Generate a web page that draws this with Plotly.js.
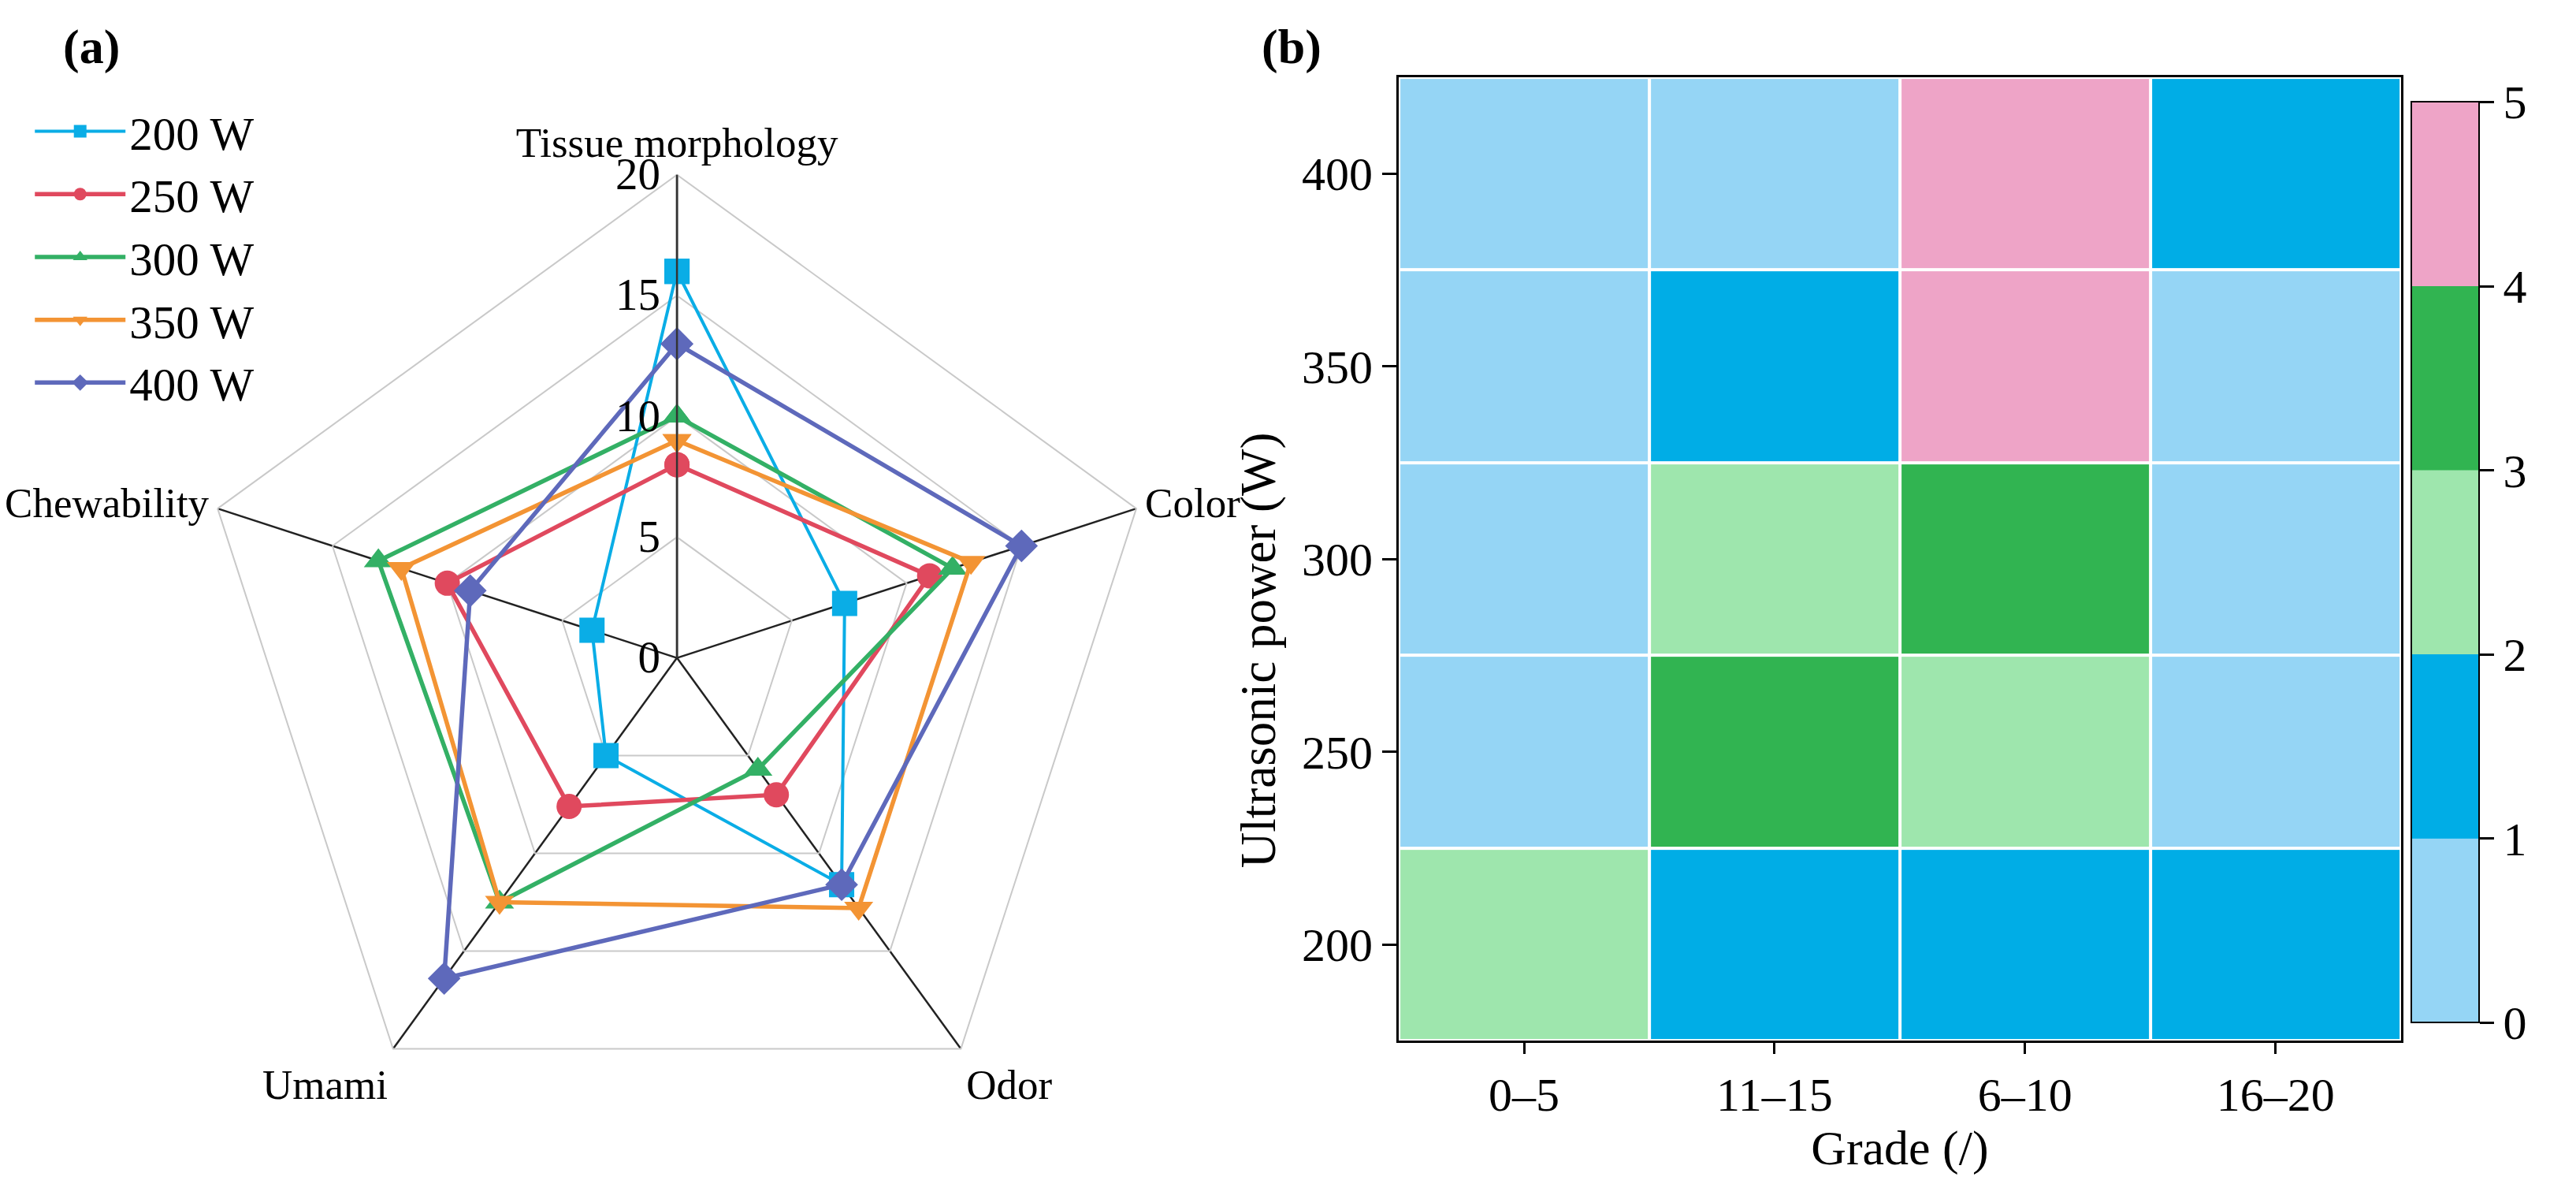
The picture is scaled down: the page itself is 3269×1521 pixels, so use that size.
<!DOCTYPE html>
<html>
<head>
<meta charset="utf-8">
<script src="https://cdn.plot.ly/plotly-3.0.1.min.js"></script>
<style>html,body{margin:0;padding:0;background:#fff;}#chart{width:3269px;height:1521px;}</style>
</head>
<body>
<div id="chart"></div>
<script>
// ---- Panel (a): radar data ----
const attributes = ["Tissue morphology", "Color", "Odor", "Umami", "Chewability"];
const seriesNames = ["200 W", "250 W", "300 W", "350 W", "400 W"];
const s200 = [16, 7.3, 11.6, 5, 3.7];
const s250 = [8, 11, 7, 7.6, 10];
const s300 = [10, 12, 5.7, 12.5, 13];
const s350 = [9, 12.8, 12.8, 12.5, 12];
const s400 = [13, 15, 11.6, 16.4, 9];
const radialTicks = [0, 5, 10, 15, 20];

// ---- Panel (b): heatmap data ----
const grades = ["0\u20135", "11\u201315", "6\u201310", "16\u201320"];
const powers = [200, 250, 300, 350, 400];
const counts = [
  [2, 1, 1, 1],   // 200 W
  [0, 3, 2, 0],   // 250 W
  [0, 2, 3, 0],   // 300 W
  [0, 1, 4, 0],   // 350 W
  [0, 0, 4, 1]    // 400 W
];
const cbTicks = [0, 1, 2, 3, 4, 5];

const FONT = "Liberation Serif, Times New Roman, serif";
const colors = ["#0aade6", "#e0495e", "#33b065", "#f39434", "#5e69bb"];
const symbols = ["square", "circle", "triangle-up", "triangle-down", "diamond"];
const widths = [4, 5.5, 5.5, 5.5, 5.5];
const allSeries = [s200, s250, s300, s350, s400];

const traces = allSeries.map((vals, i) => ({
  type: "scatterpolar",
  r: vals.concat([vals[0]]),
  theta: attributes.concat([attributes[0]]),
  name: seriesNames[i],
  mode: "lines+markers",
  line: {color: colors[i], width: widths[i]},
  marker: {symbol: symbols[i], size: 32, color: colors[i]},
  subplot: "polar"
}));

const binColors = ["#95d5f5", "#00ade6", "#9ee6ad", "#31b451", "#eea4c7"];
const eps = 0.0005;
const colorscale = [];
binColors.forEach((c, k) => {
  colorscale.push([k / 5, c]);
  colorscale.push([(k + 1) / 5 - (k < 4 ? eps : 0), c]);
});

traces.push({
  type: "heatmap",
  x: grades,
  y: powers,
  z: counts,
  zmin: 0, zmax: 5,
  colorscale: colorscale,
  xgap: 4, ygap: 4,
  xaxis: "x", yaxis: "y",
  showlegend: false,
  colorbar: {
    x: 0.936, xanchor: "left",
    y: 0.147, yanchor: "bottom",
    len: 0.768, lenmode: "fraction",
    thickness: 86,
    outlinecolor: "#000", outlinewidth: 2,
    tickvals: cbTicks, ticktext: cbTicks.map(String),
    ticks: "outside", ticklen: 18, tickwidth: 3, tickcolor: "#000",
    tickfont: {family: FONT, size: 60, color: "#000"},
    xpad: 0, ypad: 0
  }
});

const layout = {
  width: 3269, height: 1521,
  margin: {l: 0, r: 0, t: 0, b: 0},
  paper_bgcolor: "#ffffff",
  plot_bgcolor: "#ffffff",
  font: {family: FONT, size: 57, color: "#000"},
  showlegend: true,
  legend: {
    x: 0.012, y: 0.92, xanchor: "left", yanchor: "top",
    font: {family: FONT, size: 59, color: "#000"},
    itemwidth: 115, tracegroupgap: 0,
    bgcolor: "rgba(0,0,0,0)"
  },
  polar: {
    domain: {x: [0.0753, 0.4503], y: [0.048, 0.8546]},
    gridshape: "linear",
    bgcolor: "rgba(0,0,0,0)",
    angularaxis: {
      direction: "clockwise", rotation: 90,
      showgrid: true, gridcolor: "#222", gridwidth: 2.5,
      showline: true, linecolor: "#c9c9c9", linewidth: 2,
      ticks: "", tickfont: {family: FONT, size: 53, color: "#000"}
    },
    radialaxis: {
      range: [0, 20], angle: 90, side: "counterclockwise",
      tickvals: radialTicks, ticktext: radialTicks.map(String),
      showgrid: true, gridcolor: "#c9c9c9", gridwidth: 2,
      showline: true, linecolor: "#333", linewidth: 2.5,
      ticks: "", tickangle: 90,
      tickfont: {family: FONT, size: 57, color: "#000"}
    }
  },
  xaxis: {
    domain: [0.543, 0.932], anchor: "y",
    type: "category",
    showline: true, linecolor: "#000", linewidth: 3, mirror: true,
    ticks: "outside", ticklen: 14, tickwidth: 3, tickcolor: "#000",
    tickfont: {family: FONT, size: 60, color: "#000"},
    title: {text: "Grade (/)", font: {family: FONT, size: 62, color: "#000"}, standoff: 4},
    showgrid: false, zeroline: false
  },
  yaxis: {
    domain: [0.132, 0.9355], anchor: "x",
    tickvals: powers, ticktext: powers.map(String),
    showline: true, linecolor: "#000", linewidth: 3, mirror: true,
    ticks: "outside", ticklen: 18, tickwidth: 3, tickcolor: "#000",
    tickfont: {family: FONT, size: 60, color: "#000"},
    showgrid: false, zeroline: false
  },
  annotations: [
    {text: "<b>(a)</b>", xref: "paper", yref: "paper", x: 0.024, y: 0.985, xanchor: "left", yanchor: "top", showarrow: false, font: {family: FONT, size: 62, color: "#000"}},
    {text: "<b>(b)</b>", xref: "paper", yref: "paper", x: 0.489, y: 0.985, xanchor: "left", yanchor: "top", showarrow: false, font: {family: FONT, size: 62, color: "#000"}},
    {text: "Ultrasonic power (W)", xref: "paper", yref: "paper", x: 0.4885, y: 0.458, xanchor: "center", yanchor: "middle", textangle: -90, showarrow: false, font: {family: FONT, size: 63, color: "#000"}}
  ]
};

Plotly.newPlot("chart", traces, layout, {staticPlot: true, displayModeBar: false});
</script>
</body>
</html>
